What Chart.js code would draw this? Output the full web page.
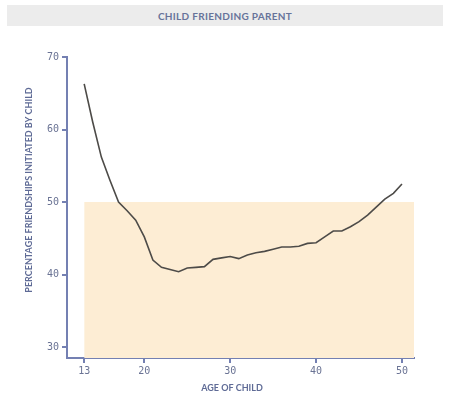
<!DOCTYPE html>
<html lang="en">
<head>
  <meta charset="UTF-8">
  <title>Child Friending Parent</title>
  <script src="https://cdn.jsdelivr.net/npm/chart.js"></script>
  <style>
    body {
      margin: 0;
      background-color: #ffffff;
      font-family: Lato, Arial, sans-serif;
    }
    .wrap {
      position: relative;
      width: 450px;
      height: 406px;
    }
    .head {
      position: absolute;
      left: 7px;
      top: 5px;
      width: 436px;
      height: 21px;
      line-height: 22px;
      background-color: #ececec;
      color: #67739a;
      font-size: 10px;
      font-weight: bold;
      text-align: center;
      letter-spacing: 0.3px;
    }
    canvas {
      position: absolute;
      left: 0;
      top: 0;
    }
  </style>
</head>
<body>
  <div class="wrap">
    <div class="head">CHILD FRIENDING PARENT</div>
    <canvas id="chart" width="450" height="406"></canvas>
  </div>

  <script>
    // ages 13..50 and share of friendships started by the child
    const ages = [13, 14, 15, 16, 17, 18, 19, 20, 21, 22, 23, 24, 25, 26, 27, 28, 29, 30, 31, 32,
                  33, 34, 35, 36, 37, 38, 39, 40, 41, 42, 43, 44, 45, 46, 47, 48, 49, 50];
    const percent = [66.3, 61.0, 56.2, 53.0, 50.0, 48.8, 47.5, 45.2, 42.0, 41.0, 40.7, 40.4, 40.9, 41.0, 41.1, 42.1, 42.3, 42.5, 42.2, 42.7,
                     43.0, 43.2, 43.5, 43.8, 43.8, 43.9, 44.3, 44.4, 45.2, 46.0, 46.0, 46.6, 47.3, 48.2, 49.3, 50.4, 51.2, 52.5];
    const xTicks = [13, 20, 30, 40, 50];
    const yTicks = [30, 40, 50, 60, 70];
    const xMin = 11, xMax = 51.4;
    const yMin = 28.5, yMax = 70;
    // shaded band below 50%
    const bandFrom = 13, bandTo = xMax, bandLevel = 50;

    const axisColor = '#7480b2';
    const textColor = '#6a7394';

    const axisTitles = {
      id: 'axisTitles',
      afterDraw(chart) {
        const ctx = chart.ctx;
        ctx.save();
        ctx.fillStyle = '#5f6b96';
        ctx.font = 'bold 9px Lato, Arial, sans-serif';
        ctx.textAlign = 'center';
        ctx.textBaseline = 'middle';
        ctx.fillText('AGE OF CHILD', 232, 388);
        ctx.translate(29, 190);
        ctx.rotate(-Math.PI / 2);
        ctx.fillText('PERCENTAGE FRIENDSHIPS INITIATED BY CHILD', 0, 0);
        ctx.restore();
      }
    };

    new Chart(document.getElementById('chart'), {
      type: 'line',
      data: {
        datasets: [{
          data: ages.map((a, i) => ({ x: a, y: percent[i] })),
          borderColor: '#4d4b48',
          borderWidth: 1.6,
          pointRadius: 0,
          tension: 0,
          fill: false
        }, {
          data: [{ x: bandFrom, y: bandLevel }, { x: bandTo, y: bandLevel }],
          borderWidth: 0,
          borderColor: 'rgba(0,0,0,0)',
          backgroundColor: '#fdedd4',
          pointRadius: 0,
          fill: 'start'
        }]
      },
      options: {
        responsive: false,
        animation: false,
        layout: { padding: { left: 0, top: 57, right: 36, bottom: 0 } },
        plugins: {
          legend: { display: false },
          tooltip: { enabled: false },
          title: { display: false }
        },
        scales: {
          x: {
            type: 'linear',
            min: xMin,
            max: xMax,
            afterBuildTicks: s => { s.ticks = xTicks.map(v => ({ value: v })); },
            afterFit: s => { s.height = 48; },
            grid: { drawOnChartArea: false, color: axisColor, lineWidth: 2, tickLength: 5 },
            border: { color: axisColor, width: 2 },
            ticks: {
              color: textColor,
              padding: 2,
              font: { family: 'DejaVu Sans Mono', size: 10 }
            }
          },
          y: {
            min: yMin,
            max: yMax,
            afterBuildTicks: s => { s.ticks = yTicks.map(v => ({ value: v })); },
            afterFit: s => { s.width = 67; },
            grid: { drawOnChartArea: false, color: axisColor, lineWidth: 2, tickLength: 5 },
            border: { color: axisColor, width: 2 },
            ticks: {
              color: textColor,
              padding: 3,
              font: { family: 'DejaVu Sans Mono', size: 10 }
            }
          }
        }
      },
      plugins: [axisTitles]
    });
  </script>
</body>
</html>
